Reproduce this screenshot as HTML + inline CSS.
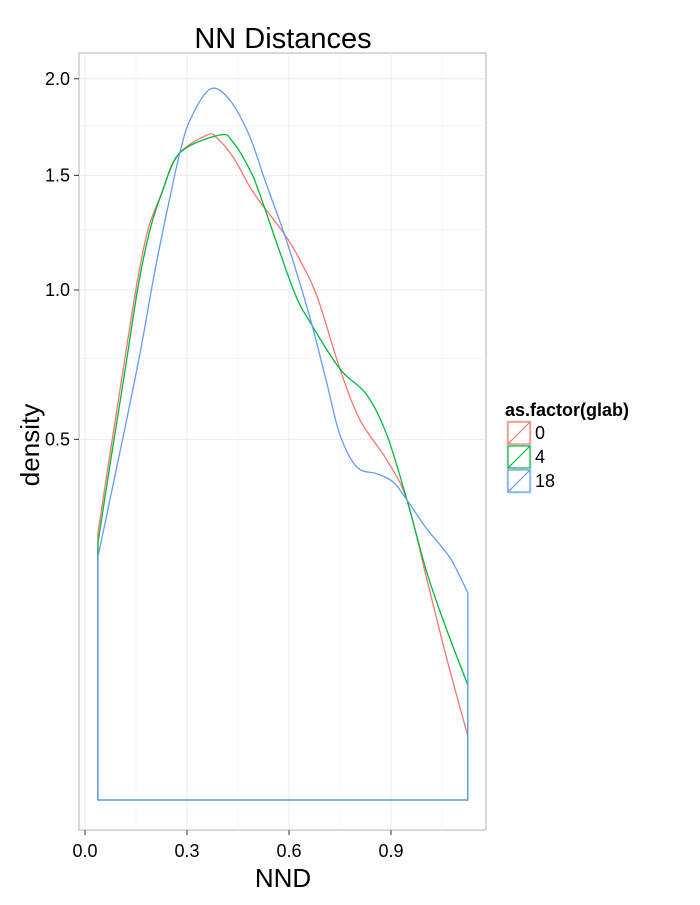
<!DOCTYPE html>
<html><head><meta charset="utf-8"><style>
body{margin:0;background:#fff;}
svg text{font-family:"Liberation Sans",Arial,sans-serif;}
</style></head><body>
<svg id="chart" width="700" height="900" xmlns="http://www.w3.org/2000/svg">
<text x="283" y="48" font-size="29" text-anchor="middle" fill="#000">NN Distances</text>
<rect x="79" y="53" width="407" height="777" fill="#fff" stroke="#b3b3b3" stroke-width="1"/>
<g id="grid"></g>
<g id="series"></g>
<g id="axes"></g>
<text x="283" y="887" font-size="26" text-anchor="middle">NND</text>
<text transform="translate(39,445) rotate(-90)" font-size="26" text-anchor="middle">density</text>
<g id="legend">
<text x="505" y="416" font-size="18" font-weight="bold">as.factor(glab)</text>
</g>
</svg>
<script>
const seriesNames = ["0","4","18"];
const colors = ["#F8766D","#00BA38","#619CFF"];
const xRed = [.038,.074,.112,.153,.185,.221,.274,.359,.388,.435,.485,.515,.588,.632,.682,.75,.809,.888,.947,1.006,1.065,1.126];
const dRed = [.274,.463,.711,1.028,1.249,1.398,1.600,1.700,1.685,1.590,1.445,1.375,1.228,1.121,.977,.714,.555,.444,.346,.186,.0754,.0157];
const xGreen = [.038,.079,.118,.156,.191,.226,.279,.397,.435,.485,.515,.612,.662,.75,.829,.888,.947,1.006,1.065,1.126];
const dGreen = [.254,.463,.711,1.012,1.249,1.416,1.610,1.700,1.665,1.526,1.407,1.004,.878,.714,.631,.512,.346,.198,.110,.0508];
const xBlue = [.038,.112,.162,.206,.25,.279,.309,.368,.426,.485,.529,.594,.662,.712,.75,.8,.859,.906,.947,1.006,1.074,1.126];
const dBlue = [.227,.507,.768,1.080,1.398,1.610,1.778,1.943,1.884,1.690,1.478,1.197,.893,.665,.512,.426,.409,.389,.346,.282,.225,.165];
const xTicks = [0,0.3,0.6,0.9];
const xTickLabels = ["0.0","0.3","0.6","0.9"];
const xMinor = [0.15,0.45,0.75,1.05];
const yTicks = [0.5,1.0,1.5,2.0];
const yTickLabels = ["0.5","1.0","1.5","2.0"];
const yMinor = [0.75,1.25,1.75];

const NS="http://www.w3.org/2000/svg";
const X = v => 85 + v*340;
const Y = d => 800 - Math.sqrt(d)*510;
function mk(tag, attrs, parent){const e=document.createElementNS(NS,tag);for(const k in attrs)e.setAttribute(k,attrs[k]);parent.appendChild(e);return e;}
const grid=document.getElementById('grid'), axes=document.getElementById('axes'), ser=document.getElementById('series'), leg=document.getElementById('legend');
xMinor.forEach(v=>{const l=mk('line',{x1:X(v),x2:X(v),y1:53,y2:830,stroke:'#f2f2f2','stroke-width':0.6},grid);

});
yMinor.forEach(v=>{const l=mk('line',{x1:79,x2:486,y1:Y(v),y2:Y(v),stroke:'#f2f2f2','stroke-width':0.6},grid);

});
xTicks.forEach((v,i)=>{const l=mk('line',{x1:X(v),x2:X(v),y1:53,y2:830,stroke:'#ebebeb','stroke-width':1},grid);


mk('line',{x1:X(v),x2:X(v),y1:830,y2:835,stroke:'#333'},axes);
const t=mk('text',{x:X(v),y:857,'font-size':18,'text-anchor':'middle'},axes);t.textContent=xTickLabels[i];

});
yTicks.forEach((v,i)=>{const l=mk('line',{x1:79,x2:486,y1:Y(v),y2:Y(v),stroke:'#ebebeb','stroke-width':1},grid);


mk('line',{x1:74,x2:79,y1:Y(v),y2:Y(v),stroke:'#333'},axes);
const t=mk('text',{x:70,y:Y(v)+6,'font-size':18,'text-anchor':'end'},axes);t.textContent=yTickLabels[i];

});
function smooth(pts){let d=`M${pts[0][0]},${pts[0][1]}`;for(let i=0;i<pts.length-1;i++){const p0=pts[Math.max(0,i-1)],p1=pts[i],p2=pts[i+1],p3=pts[Math.min(pts.length-1,i+2)];
const c1=[p1[0]+(p2[0]-p0[0])/6,p1[1]+(p2[1]-p0[1])/6],c2=[p2[0]-(p3[0]-p1[0])/6,p2[1]-(p3[1]-p1[1])/6];
d+=`C${c1[0]},${c1[1]} ${c2[0]},${c2[1]} ${p2[0]},${p2[1]}`;}return d;}
[[xRed,dRed],[xGreen,dGreen],[xBlue,dBlue]].forEach((s,k)=>{
const pts=s[0].map((x,i)=>[X(x),Y(s[1][i])]);
let d=smooth(pts);
d+=`L${X(s[0][s[0].length-1])},${Y(0)}L${X(s[0][0])},${Y(0)}Z`;
const p=mk('path',{d:d,fill:'none',stroke:colors[k],'stroke-width':1.3},ser);


const ky=421+k*24;
const r=mk('rect',{x:507,y:ky,width:24,height:24,fill:'#fff',stroke:'#ddd'},leg);


mk('rect',{x:508,y:ky+1,width:22,height:22,fill:'none',stroke:colors[k],'stroke-width':1.2},leg);
mk('line',{x1:508,y1:ky+23,x2:530,y2:ky+1,stroke:colors[k],'stroke-width':1.2},leg);
const t=mk('text',{x:535,y:ky+18,'font-size':18},leg);t.textContent=seriesNames[k];


});
</script>
</body></html>
